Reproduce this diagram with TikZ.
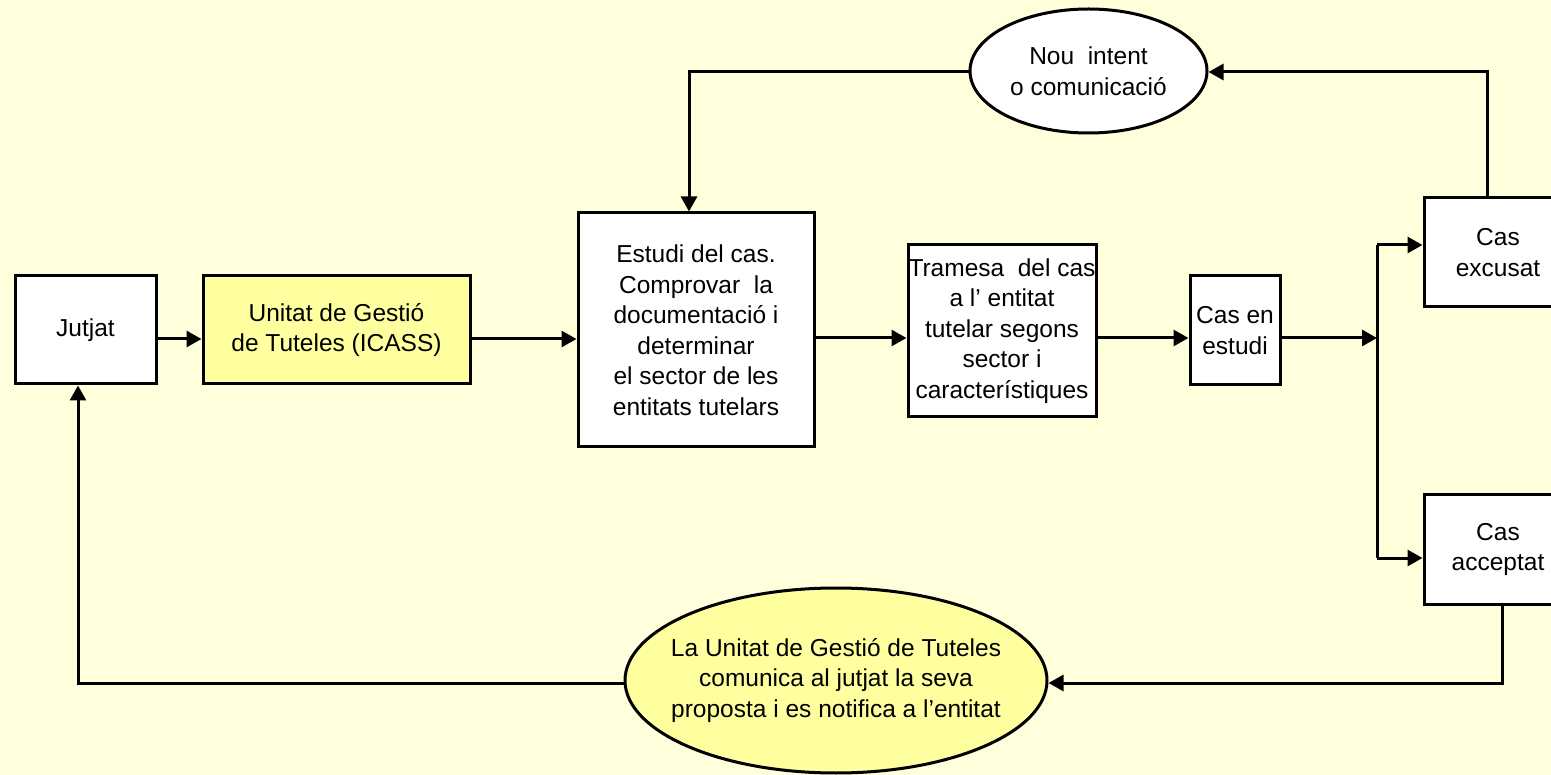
\documentclass[tikz,border=0pt]{standalone}
\usepackage{fontspec}
\setmainfont{Liberation Sans}
\usetikzlibrary{arrows.meta,shapes.geometric}
\definecolor{bgc}{RGB}{255,255,220}
\definecolor{yel}{RGB}{255,255,160}
\tikzset{
  box/.style={draw=black,line width=3pt,fill=white,rectangle,inner sep=0pt,align=center,
    font=\fontsize{24.5}{30.5}\selectfont},
  ybox/.style={box,fill=yel},
  oval/.style={draw=black,line width=3pt,ellipse,inner sep=0pt,align=center,
    font=\fontsize{24.5}{30.5}\selectfont},
  conn/.style={line width=3pt,draw=black},
  arr/.style={conn,-{Triangle[length=15pt,width=16pt]}},
}
\begin{document}
\begin{tikzpicture}[x=1pt,y=-1pt]
\clip (0,0) rectangle (1551,775);
\fill[bgc] (0,0) rectangle (1551,775);
\useasboundingbox (0,0) rectangle (1551,775);
% nodes
\node[box,minimum width=141pt,minimum height=108pt] (jut) at (85.5,330) {Jutjat};
\node[ybox,minimum width=267pt,minimum height=108pt] (uni) at (336.5,330) {Unitat de Gestió\\de Tuteles (ICASS)};
\node[box,minimum width=236pt,minimum height=234pt] (est) at (696,330) {Estudi del cas.\\Comprovar\ \ la\\documentació i\\determinar\\el sector de les\\entitats tutelars};
\node[box,minimum width=188pt,minimum height=172pt] (tra) at (1002,331) {Tramesa\ \ del cas\\a l’ entitat\\tutelar segons\\sector i\\característiques};
\node[box,minimum width=90pt,minimum height=109pt] (enest) at (1235,330.5) {Cas en\\estudi};
\node[box,minimum width=148pt,minimum height=109pt] (exc) at (1498,252.5) {Cas\\excusat};
\node[box,minimum width=148pt,minimum height=109pt] (acc) at (1498,549.5) {Cas\\acceptat};
\node[oval,fill=white,minimum width=237pt,minimum height=124pt] (nou) at (1088.5,71) {Nou\ \ intent\\o comunicació};
\node[oval,fill=yel,inner xsep=-20pt,minimum width=422pt,minimum height=185pt] (lau) at (836,680.5) {La Unitat de Gestió de Tuteles\\comunica al jutjat la seva\\proposta i es notifica a l’entitat};
% coordinates
\coordinate (r1) at (0,339);
\coordinate (r2) at (0,338);
\coordinate (sp) at (1377,338);
\coordinate (sptop) at (1377,245);
\coordinate (spbot) at (1377,558);
\coordinate (c1) at (1487,72);
\coordinate (c2) at (689,72);
\coordinate (c3) at (1502,683);
\coordinate (c4) at (78,683);
% connectors
\draw[arr] (jut.east |- r1) -- (uni.west |- r1);
\draw[arr] (uni.east |- r1) -- (est.west |- r1);
\draw[arr] (est.east |- r2) -- (tra.west |- r2);
\draw[arr] (tra.east |- r2) -- (enest.west |- r2);
\draw[arr] (enest.east |- r2) -- (sp);
\draw[conn] (sptop) -- (spbot);
\draw[arr] (sptop) -- (exc.west |- sptop);
\draw[arr] (spbot) -- (acc.west |- spbot);
\draw[arr] (exc.north -| c1) -- (c1) -- (nou.east |- c1);
\draw[arr] (nou.west |- c2) -- (c2) -- (est.north -| c2);
\draw[arr] (acc.south -| c3) -- (c3) -- (lau.east |- c3);
\draw[arr] (lau.west |- c4) -- (c4) -- (jut.south -| c4);
\end{tikzpicture}
\end{document}
